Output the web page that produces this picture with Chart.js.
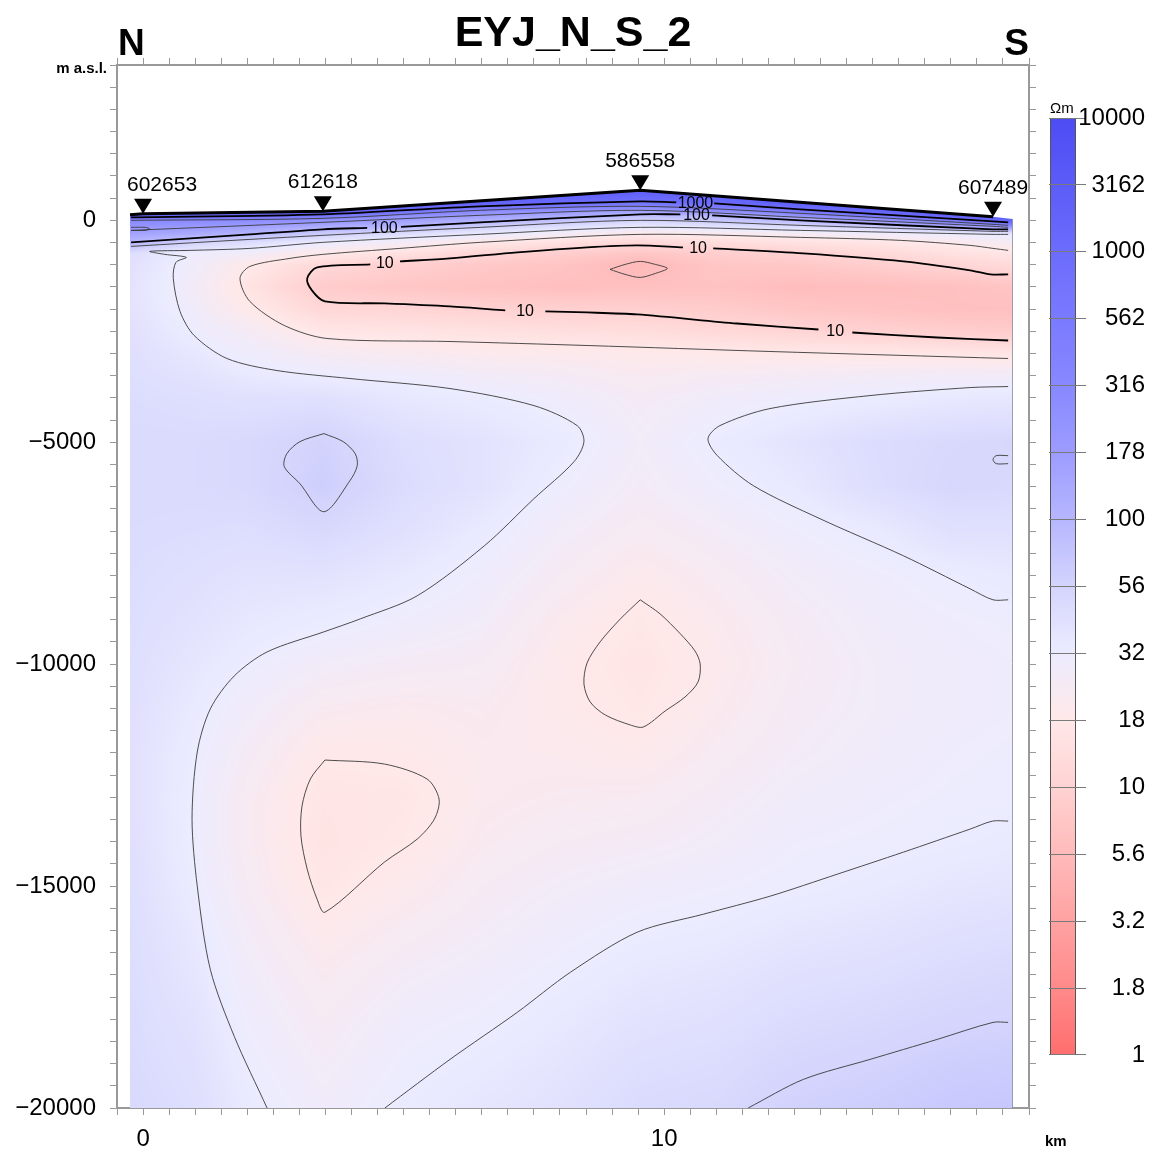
<!DOCTYPE html>
<html>
<head>
<meta charset="utf-8">
<title>EYJ_N_S_2</title>
<script src="https://cdn.jsdelivr.net/npm/chart.js@4.4.1/dist/chart.umd.min.js"></script>
<style>
  html, body { margin: 0; padding: 0; background: #fff; }
  #wrap { width: 1155px; height: 1153px; }
</style>
</head>
<body>
<div id="wrap"><canvas id="section"></canvas></div>
<script>
// Resistivity cross-section EYJ_N_S_2, N -> S

const FONT = "'Liberation Sans', Arial, Helvetica, sans-serif";

// stations on the profile
const stationNames = ['602653', '612618', '586558', '607489'];
const stationKm = [0, 3.45, 9.54, 16.31];
const stationElev = [147, 203, 677, 79];
// model edges [km, m a.s.l.]
const modelLeft = [-0.25, 124];
const modelRight = [16.68, 30];

// colour scale (Ohm-m)
const cbValues = [1, 1.8, 3.2, 5.6, 10, 18, 32, 56, 100, 178, 316, 562, 1000, 3162, 10000];
const cbLabels = ['1', '1.8', '3.2', '5.6', '10', '18', '32', '56', '100', '178', '316', '562', '1000', '3162', '10000'];
const cbColors = ['#ff6e6e', '#ff8a8a', '#ffa2a2', '#ffbaba', '#ffd2d2', '#ffe8e8', '#ececff', '#d4d4fd',
                  '#b6b6ff', '#9c9cff', '#8888ff', '#7a7aff', '#6c6cfc', '#5c5cf8', '#4c4cf4'];

// resistivity model, rows = elevation (m), columns = distance (km)
const gridKm = [-0.25, 1, 2, 3.45, 5, 6.5, 8, 9.54, 11, 12.5, 14, 15.5, 16.7];
const gridElev = [700, 400, 200, 100, 0, -150, -300, -500, -750, -1000, -1500, -2000, -2500, -3000, -3500, -4000,
  -5000, -6000, -7000, -8000, -9000, -10000, -11000, -12000, -13000, -14000, -15000, -16000, -17000, -18000, -19000, -20000];
const gridRho = [
  [3000, 3000, 3000, 3000, 3000, 3000, 3000, 3000, 3000, 3000, 3000, 3000, 3000],
  [3000, 3000, 3000, 3000, 3000, 2100, 1180, 740, 1130, 2700, 3000, 3000, 3000],
  [3000, 3000, 3000, 3000, 700, 277, 211, 150, 242, 500, 1540, 3000, 3000],
  [1870, 1165, 891, 638, 255, 170, 129, 86, 98, 210, 519, 1850, 3000],
  [316, 302, 283, 237, 159, 117, 81, 56, 71, 97, 191, 562, 1930],
  [216, 186, 161, 121, 97, 58, 44, 33, 39, 46, 61, 107, 198],
  [153, 128, 105, 66, 46, 34, 26, 19, 21.6, 24, 28.4, 31.5, 37],
  [100, 56, 46, 32, 25, 18, 14.4, 11.7, 13.1, 14.8, 16.5, 19.7, 24],
  [45, 30, 27, 18.6, 14.6, 11, 9, 7.4, 9, 10, 11.7, 14.6, 16.7],
  [42, 28, 19, 11.7, 9.4, 8, 7.2, 5.4, 7.5, 7.8, 9, 10.7, 12.7],
  [40, 26, 16, 8.5, 7.5, 6.8, 6.3, 6.5, 6.8, 6, 6.2, 6.5, 7.2],
  [40, 28, 19, 11.5, 10.8, 10, 9.6, 9.2, 8.6, 7.5, 7, 6.5, 6.5],
  [42, 31, 25, 17, 16, 15, 14, 13.5, 12, 10.8, 9.8, 9, 8.5],
  [43, 36, 30, 24, 22, 20.5, 20, 19, 18.5, 18, 17.5, 17, 16],
  [44, 40, 35, 32, 30, 27, 25, 22, 24, 25, 26, 27, 27],
  [46, 44, 42, 42, 36, 33, 29.5, 25, 28, 30.5, 32.5, 35, 36],
  [48, 48, 50, 58, 45, 40, 34, 27, 33, 39, 46, 50, 52],
  [48, 48, 50, 62, 47, 40, 31, 25.5, 30, 35, 45, 52, 50],
  [47, 46, 45, 50, 42, 34, 27, 23, 26, 30, 34, 42, 42],
  [46, 43, 40, 40, 35, 30, 24, 20, 23, 27, 29.5, 32.5, 35],
  [45, 40, 36, 33, 30, 27, 21, 17.6, 21, 25, 28, 30, 31],
  [44, 37, 32, 27, 25, 24, 19.5, 16.5, 20, 24, 27, 29, 30],
  [43, 34, 28, 22, 21, 22, 19.5, 17.5, 21, 25, 27, 29, 30],
  [42, 32, 25, 18.5, 18.8, 21, 20.5, 19.5, 23, 26, 28, 30, 31],
  [42, 31, 23, 16.5, 17, 21, 22, 22.5, 25, 28, 29.5, 31, 31.5],
  [43, 31, 23, 16, 17.8, 22, 24, 25, 27, 30, 31, 32.5, 34],
  [44, 32, 24, 17, 20, 24, 26.5, 28.5, 30, 31.8, 34, 37, 38],
  [45, 35, 26, 19.5, 23, 26, 29, 32, 33.5, 37, 39, 42, 44],
  [46, 37, 28, 22, 26, 28.5, 31.8, 36, 38, 42, 44, 48, 50],
  [47, 40, 30, 24, 29, 31, 35, 40, 42, 47, 50, 54, 56],
  [48, 42, 32, 26, 31, 34, 38, 44, 46, 53, 56.5, 62, 64],
  [50, 44, 34, 28, 33, 37, 41, 48, 50, 59, 63, 70, 72]
];

// contour lines [km, m a.s.l.]; null leaves room for a label
const c1000 = [[-0.23, 68], [3.45, 135], [6.47, 316], [9.54, 429], [10.23, 406], null, [10.96, 384], [12.61, 248], [16.31, -23], [16.6, -45]];
const c316 = [[-0.23, 0], [3.45, 45], [6.47, 226], [9.54, 316], [12.61, 158], [16.31, -90], [16.6, -113]];
const c316b = [[-0.23, -158], [0.04, -158], [0.13, -192], [0.04, -226], [-0.23, -226]];
const c178 = [[-0.23, -226], [3.45, -45], [6.47, 113], [9.54, 226], [12.61, 68], [16.31, -135], [16.6, -158]];
const c100 = [[-0.23, -496], [2.05, -316], [3.45, -203], [4.30, -169], null, [4.95, -147], [6.47, -45], [9.54, 135], [10.31, 135], null,
  [10.92, 113], [12.61, 0], [16.31, -203], [16.6, -203]];
const c56 = [[-0.23, -587], [2.05, -429], [3.45, -338], [6.47, -158], [9.54, 0], [12.61, -113], [16.31, -248], [16.6, -248]];
const c32 = [[16.6, -316], [16.31, -316], [12.61, -226], [9.54, -158], [6.47, -316], [3.45, -496], [2.05, -632], [0.90, -677],
  [0.13, -699], [0.42, -767], [0.83, -835], [0.63, -948], [0.58, -1308], [0.71, -2053], [0.98, -2594], [1.61, -3113],
  [2.57, -3384], [3.97, -3564], [5.89, -3790], [7.50, -4174], [8.33, -4625], [8.46, -4986], [8.27, -5437], [7.50, -6272],
  [6.55, -7332], [5.26, -8460], [4.17, -8979], [3.47, -9272], [2.38, -9724], [1.75, -10265], [1.29, -11009], [1.04, -11979],
  [0.94, -13491], [1.04, -15002], [1.29, -16875], [1.75, -18386], [2.38, -20000]];
const c18 = [[16.6, -677], [16.31, -632], [15.87, -564], [14.53, -451], [12.61, -384], [9.54, -316], [6.47, -496], [4.93, -632],
  [3.45, -767], [2.82, -857], [2.05, -1038], [1.86, -1308], [2.05, -1827], [2.71, -2369], [3.53, -2662], [5.89, -2730],
  [8.52, -2820], [12.03, -2955], [16.6, -3113]];
const c10 = [[16.6, -1218], [16.26, -1218], [15.87, -1128], [14.59, -925], [12.67, -744], [10.94, -632], null, [10.36, -609],
  [9.48, -564], [8.52, -609], [7.18, -722], [5.89, -857], [4.93, -925], null, [4.36, -993], [3.34, -1060], [3.15, -1308],
  [3.24, -1579], [3.49, -1827], [4.63, -1872], [5.89, -1940], [6.95, -2030], null, [7.72, -2053], [8.52, -2075], [9.48, -2121],
  [11.40, -2324], [12.96, -2459], null, [13.61, -2527], [15.24, -2640], [16.6, -2707]];
const c5_6 = [[8.96, -1105], [9.25, -993], [9.54, -925], [9.83, -993], [10.06, -1083], [9.83, -1196], [9.54, -1286], [9.25, -1218], [8.96, -1105]];
const c32east = [[16.6, -3745], [15.87, -3768], [13.95, -3948], [12.03, -4241], [11.07, -4625], [10.84, -4918], [11.02, -5302],
  [11.71, -5978], [12.99, -6723], [14.59, -7558], [15.87, -8302], [16.31, -8550], [16.6, -8550]];
const c56loop = [[3.47, -4805], [3.84, -4986], [4.07, -5256], [4.11, -5527], [3.97, -5866], [3.47, -6565], [3.01, -5933],
  [2.71, -5550], [2.76, -5256], [3.01, -4986], [3.47, -4805]];
const c56hook = [[16.6, -5302], [16.37, -5302], [16.31, -5392], [16.37, -5482], [16.6, -5482]];
const c18mid = [[9.54, -8550], [9.92, -8866], [10.31, -9317], [10.59, -9701], [10.69, -9994], [10.65, -10400], [10.40, -10739],
  [10.02, -11054], [9.60, -11415], [9.35, -11370], [8.87, -11145], [8.58, -10852], [8.46, -10445], [8.52, -9972], [8.77, -9498],
  [9.16, -8979], [9.54, -8550]];
const c18low = [[3.49, -12160], [4.63, -12250], [5.45, -12588], [5.68, -13040], [5.59, -13491], [5.26, -13942], [4.63, -14461],
  [3.49, -15589], [3.34, -15296], [3.15, -14619], [3.03, -13874], [3.05, -13198], [3.21, -12588], [3.49, -12160]];
const c32deep = [[4.64, -20000], [5.89, -18905], [7.18, -17845], [8.20, -16942], [9.48, -16040], [10.75, -15634], [12.03, -15228],
  [13.32, -14732], [14.59, -14235], [15.87, -13716], [16.30, -13536], [16.6, -13536]];
const c56deep = [[11.61, -20000], [12.67, -19356], [13.95, -18905], [15.24, -18454], [16.31, -18071], [16.6, -18071]];

const contourLabels = [
  ['1000', 10.6, 406], ['100', 4.63, -158], ['100', 10.62, 124],
  ['10', 4.64, -960], ['10', 10.65, -620], ['10', 7.33, -2042], ['10', 13.28, -2493]
];

// ---- helpers ----
const hexRgb = h => [1, 3, 5].map(i => parseInt(h.slice(i, i + 2), 16));
const cbRgb = cbColors.map(hexRgb);
const cbLog = cbValues.map(v => Math.log10(v));

function colourAt(logRho) {
  let t;
  if (logRho <= cbLog[0]) t = 0;
  else if (logRho >= cbLog[cbLog.length - 1]) t = cbLog.length - 1;
  else {
    let i = 1;
    while (logRho > cbLog[i]) i++;
    t = i - 1 + (logRho - cbLog[i - 1]) / (cbLog[i] - cbLog[i - 1]);
  }
  const k = Math.min(Math.floor(t), cbRgb.length - 2);
  const f = t - k;
  const a = cbRgb[k], b = cbRgb[k + 1];
  return [a[0] + (b[0] - a[0]) * f, a[1] + (b[1] - a[1]) * f, a[2] + (b[2] - a[2]) * f];
}

const toXY = pts => pts.map(p => p ? { x: p[0], y: p[1] } : { x: 0, y: null });

function contourSet(pts, thick) {
  return {
    data: toXY(pts),
    showLine: true,
    spanGaps: false,
    borderColor: thick ? '#000' : '#3a3a3a',
    borderWidth: thick ? 1.8 : 0.9,
    pointRadius: 0,
    tension: 0.3
  };
}

const fmtElev = v => v === 0 ? '0' : (v < 0 ? '\u2212' + Math.abs(v) : String(v));

function surfacePath(chart) {
  const xs = chart.scales.x, ys = chart.scales.y;
  const ctx = chart.ctx;
  const top = [modelLeft].concat(stationKm.map((k, i) => [k, stationElev[i]]), [modelRight]);
  ctx.beginPath();
  top.forEach((p, i) => {
    const px = xs.getPixelForValue(p[0]), py = ys.getPixelForValue(p[1]);
    if (i === 0) ctx.moveTo(px, py); else ctx.lineTo(px, py);
  });
  ctx.lineTo(xs.getPixelForValue(modelRight[0]), ys.getPixelForValue(-20000));
  ctx.lineTo(xs.getPixelForValue(modelLeft[0]), ys.getPixelForValue(-20000));
  ctx.closePath();
}

// smooth resistivity image, clipped to the topography
let fieldCache = null;
function buildField(chart) {
  const { left, top, right, bottom } = chart.chartArea;
  const xs = chart.scales.x, ys = chart.scales.y;
  const w = Math.round(right - left), h = Math.round(bottom - top);
  const off = document.createElement('canvas');
  off.width = w; off.height = h;
  const octx = off.getContext('2d');
  const img = octx.createImageData(w, h);
  const logGrid = gridRho.map(row => row.map(v => Math.log10(v)));

  const ci = new Int32Array(w), cf = new Float32Array(w);
  for (let i = 0; i < w; i++) {
    const km = xs.getValueForPixel(left + i + 0.5);
    let k = 0;
    while (k < gridKm.length - 2 && km > gridKm[k + 1]) k++;
    ci[i] = k;
    cf[i] = Math.max(0, Math.min(1, (km - gridKm[k]) / (gridKm[k + 1] - gridKm[k])));
  }
  const ri = new Int32Array(h), rf = new Float32Array(h);
  for (let j = 0; j < h; j++) {
    const el = ys.getValueForPixel(top + j + 0.5);
    let k = 0;
    while (k < gridElev.length - 2 && el < gridElev[k + 1]) k++;
    ri[j] = k;
    rf[j] = Math.max(0, Math.min(1, (gridElev[k] - el) / (gridElev[k] - gridElev[k + 1])));
  }
  let p = 0;
  for (let j = 0; j < h; j++) {
    const r0 = logGrid[ri[j]], r1 = logGrid[ri[j] + 1], fy = rf[j];
    for (let i = 0; i < w; i++) {
      const k = ci[i], fx = cf[i];
      const a = r0[k] + (r0[k + 1] - r0[k]) * fx;
      const b = r1[k] + (r1[k + 1] - r1[k]) * fx;
      const c = colourAt(a + (b - a) * fy);
      img.data[p++] = c[0]; img.data[p++] = c[1]; img.data[p++] = c[2]; img.data[p++] = 255;
    }
  }
  octx.putImageData(img, 0, 0);
  return off;
}

const sectionPlugin = {
  id: 'section',
  beforeDraw(chart) {
    // colour bar
    const cb = chart.scales.cb, ctx = chart.ctx;
    const x0 = cb.left + 1, bw = 26;
    const yTop = cb.getPixelForValue(cbValues.length - 1), yBot = cb.getPixelForValue(0);
    const grad = ctx.createLinearGradient(0, yBot, 0, yTop);
    cbColors.forEach((c, i) => grad.addColorStop(i / (cbColors.length - 1), c));
    ctx.save();
    ctx.fillStyle = grad;
    ctx.fillRect(x0, yTop, bw, yBot - yTop);
    ctx.strokeStyle = '#555';
    ctx.lineWidth = 1;
    ctx.strokeRect(x0 + 0.5, yTop + 0.5, bw - 1, yBot - yTop - 1);
    ctx.restore();
  },
  beforeDatasetsDraw(chart) {
    if (!fieldCache) fieldCache = buildField(chart);
    const ctx = chart.ctx, { left, top } = chart.chartArea;
    ctx.save();
    surfacePath(chart);
    ctx.clip();
    ctx.drawImage(fieldCache, left, top);
    ctx.restore();
    // right edge of the model
    const xs = chart.scales.x, ys = chart.scales.y;
    const xr = Math.round(xs.getPixelForValue(modelRight[0])) + 0.5;
    ctx.save();
    ctx.strokeStyle = 'rgba(120,120,140,0.7)';
    ctx.lineWidth = 1;
    ctx.beginPath();
    ctx.moveTo(xr, ys.getPixelForValue(modelRight[1]));
    ctx.lineTo(xr, ys.getPixelForValue(-20000));
    ctx.stroke();
    ctx.restore();
  },
  afterDatasetsDraw(chart) {
    const ctx = chart.ctx, xs = chart.scales.x, ys = chart.scales.y;
    const area = chart.chartArea;
    ctx.save();
    // contour labels
    ctx.fillStyle = '#000';
    ctx.font = '16px ' + FONT;
    ctx.textAlign = 'center';
    ctx.textBaseline = 'middle';
    contourLabels.forEach(([txt, km, el]) => {
      ctx.fillText(txt, xs.getPixelForValue(km), ys.getPixelForValue(el) + 1);
    });
    // stations
    ctx.font = '21px ' + FONT;
    ctx.textBaseline = 'alphabetic';
    stationKm.forEach((km, i) => {
      const cx = xs.getPixelForValue(km), tip = ys.getPixelForValue(stationElev[i]);
      ctx.beginPath();
      ctx.moveTo(cx - 9, tip - 15);
      ctx.lineTo(cx + 9, tip - 15);
      ctx.lineTo(cx, tip);
      ctx.closePath();
      ctx.fill();
      const w = ctx.measureText(stationNames[i]).width;
      const lx = Math.max(cx - w / 2, area.left + 10);
      ctx.textAlign = 'left';
      ctx.fillText(stationNames[i], lx, tip - 23);
    });
    ctx.restore();
  },
  afterDraw(chart) {
    const ctx = chart.ctx, area = chart.chartArea;
    ctx.save();
    ctx.fillStyle = '#000';
    ctx.textBaseline = 'alphabetic';
    ctx.textAlign = 'center';
    ctx.font = 'bold 43px ' + FONT;
    ctx.fillText('EYJ_N_S_2', (area.left + area.right) / 2, 46);
    ctx.font = 'bold 37px ' + FONT;
    ctx.textAlign = 'left';
    ctx.fillText('N', area.left + 1, 55);
    ctx.textAlign = 'right';
    ctx.fillText('S', area.right, 55);
    ctx.font = 'bold 15px ' + FONT;
    ctx.fillText('m a.s.l.', area.left - 10, 73);
    ctx.textAlign = 'left';
    ctx.fillText('km', chart.scales.cb.left - 4, 1146);
    ctx.font = '15px ' + FONT;
    ctx.fillText('\u03a9m', chart.scales.cb.left + 1, 113);
    ctx.restore();
  }
};

const frameGrid = { drawOnChartArea: false, drawTicks: true, tickLength: 7, color: '#999', tickColor: '#999', tickWidth: 1 };
const frameBorder = { display: true, color: '#999', width: 2 };
const tickFont = { family: FONT, size: 24 };

const datasets = [
  contourSet(c56deep, false), contourSet(c32deep, false), contourSet(c18low, false), contourSet(c18mid, false),
  contourSet(c56hook, false), contourSet(c56loop, false), contourSet(c32east, false), contourSet(c5_6, false),
  contourSet(c18, false), contourSet(c32, false), contourSet(c56, false), contourSet(c178, false),
  contourSet(c316, false), contourSet(c316b, false),
  contourSet(c10, true), contourSet(c100, true), contourSet(c1000, true),
  {
    // topography
    data: toXY([modelLeft].concat(stationKm.map((k, i) => [k, stationElev[i]]))),
    showLine: true, borderColor: '#000', borderWidth: 3, pointRadius: 0, tension: 0
  }
];

new Chart(document.getElementById('section'), {
  type: 'scatter',
  data: { datasets },
  plugins: [sectionPlugin],
  options: {
    responsive: true,
    maintainAspectRatio: false,
    animation: false,
    devicePixelRatio: 1,
    layout: { padding: { left: 0, right: 10, top: 55, bottom: 0 } },
    plugins: { legend: { display: false }, tooltip: { enabled: false }, title: { display: false } },
    events: [],
    scales: {
      x: {
        type: 'linear', position: 'bottom', min: -0.5, max: 17,
        ticks: { stepSize: 0.5, autoSkip: false, maxRotation: 0, padding: 10, color: '#000', font: tickFont,
                 callback: v => (v % 10 === 0 ? String(v) : '') },
        grid: frameGrid, border: frameBorder,
        afterFit: s => { s.height = 45; }
      },
      x2: {
        type: 'linear', position: 'top', min: -0.5, max: 17,
        ticks: { stepSize: 0.5, autoSkip: false, maxRotation: 0, callback: () => '' },
        grid: frameGrid, border: frameBorder,
        afterFit: s => { s.height = 10; }
      },
      y: {
        type: 'linear', position: 'left', min: -20000, max: 3500,
        ticks: { stepSize: 500, autoSkip: false, padding: 14, color: '#000', font: tickFont,
                 callback: v => (v % 5000 === 0 ? fmtElev(v) : '') },
        grid: frameGrid, border: frameBorder,
        afterFit: s => { s.width = 117; }
      },
      y2: {
        type: 'linear', position: 'right', min: -20000, max: 3500, weight: 0,
        ticks: { stepSize: 500, autoSkip: false, callback: () => '' },
        grid: frameGrid, border: frameBorder,
        afterFit: s => { s.width = 20; }
      },
      cb: {
        type: 'linear', position: 'right', weight: 1, min: -0.792, max: 14.792,
        afterBuildTicks: s => { s.ticks = cbLabels.map((_, i) => ({ value: i })); },
        ticks: { autoSkip: false, crossAlign: 'far', padding: 4, color: '#000', font: tickFont,
                 callback: v => cbLabels[v] },
        grid: { drawOnChartArea: false, drawTicks: true, tickLength: 37, tickColor: '#7a7a7a', tickWidth: 1 },
        border: { display: false },
        afterFit: s => { s.width = 96; }
      }
    }
  }
});
</script>
</body>
</html>
